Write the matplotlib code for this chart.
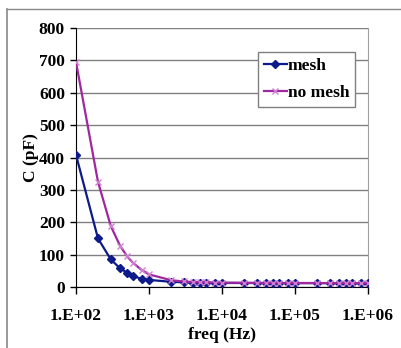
import matplotlib
matplotlib.use("Agg")
import matplotlib.pyplot as plt

# Capacitance vs frequency, with and without mesh
freq_hz = [100, 200, 300, 400, 500, 600, 800,
           1e3, 2e3, 3e3, 4e3, 5e3, 6e3, 8e3,
           1e4, 2e4, 3e4, 4e4, 5e4, 6e4, 8e4,
           1e5, 2e5, 3e5, 4e5, 5e5, 6e5, 8e5, 1e6]
mesh_pf = [408, 150, 85, 58, 44, 34, 25,
           22, 16, 14.5, 13.8, 13.3, 13, 12.7,
           12.5, 12.3, 12.2, 12.1, 12, 12, 12,
           12, 11.9, 11.9, 11.8, 11.8, 11.8, 11.8, 11.8]
nomesh_pf = [695, 325, 188, 128, 95, 75, 52,
             39, 21, 17, 15.5, 14.8, 14.3, 13.8,
             13.5, 13, 12.8, 12.7, 12.6, 12.5, 12.5,
             12.4, 12.3, 12.2, 12.2, 12.2, 12.1, 12.1, 12.1]

y_ticks = [0, 100, 200, 300, 400, 500, 600, 700, 800]
x_ticks = [1e2, 1e3, 1e4, 1e5, 1e6]
x_tick_labels = ["1.E+02", "1.E+03", "1.E+04", "1.E+05", "1.E+06"]

plt.rcParams["font.family"] = ["Liberation Serif", "DejaVu Serif"]
plt.rcParams["font.weight"] = "bold"
FS = 12.5

fig = plt.figure(figsize=(4.01, 3.48), dpi=100)
ax = fig.add_axes([76 / 401, 1 - 287 / 348, 292 / 401, 259 / 348])

# outer chart frame (only left and top edges show in the crop)
fig.add_artist(plt.Line2D([7 / 401, 7 / 401], [0, 1 - 9 / 348], color="#888888",
                          lw=1.2, transform=fig.transFigure))
fig.add_artist(plt.Line2D([7 / 401, 1], [1 - 9 / 348, 1 - 9 / 348], color="#888888",
                          lw=1.0, transform=fig.transFigure))

ax.plot(freq_hz, mesh_pf, color="#0c1a8a", lw=1.6, marker="D", ms=4.5,
        label="mesh", zorder=3)
ax.plot(freq_hz, nomesh_pf, color="#a0279f", lw=1.6, marker="x", ms=5,
        mec="#d080d0", mew=1.0, label="no mesh", zorder=3)

ax.set_xscale("log")
ax.set_xlim(1e2, 1e6)
ax.set_ylim(0, 800)
ax.set_xticks(x_ticks)
ax.set_xticklabels(x_tick_labels)
ax.minorticks_off()
ax.set_yticks(y_ticks)
ax.tick_params(axis="both", labelsize=FS, length=4, width=1)
ax.tick_params(axis="y", length=4, direction="out", pad=4)
ax.tick_params(axis="x", length=5, direction="out", pad=10)
ax.yaxis.grid(True, color="#808080", lw=1)
ax.set_axisbelow(True)

ax.spines["right"].set_color("#a0a0a0")
ax.spines["top"].set_visible(False)
ax.spines["left"].set_color("black")
ax.spines["bottom"].set_color("black")

ax.set_xlabel("freq (Hz)", fontsize=FS, fontweight="bold", labelpad=2)
ax.set_ylabel("C (pF)", fontsize=FS, fontweight="bold", labelpad=0)

leg = ax.legend(loc="upper left", bbox_to_anchor=((258 - 76) / 292, 1 - (52 - 28) / 259),
                fontsize=FS, frameon=True, fancybox=False, framealpha=1,
                edgecolor="#808080", handlelength=1.3, handletextpad=0.05,
                borderpad=0.35, labelspacing=0.6, borderaxespad=0)
leg.get_frame().set_linewidth(1)

fig.savefig("out.png", dpi=100)
